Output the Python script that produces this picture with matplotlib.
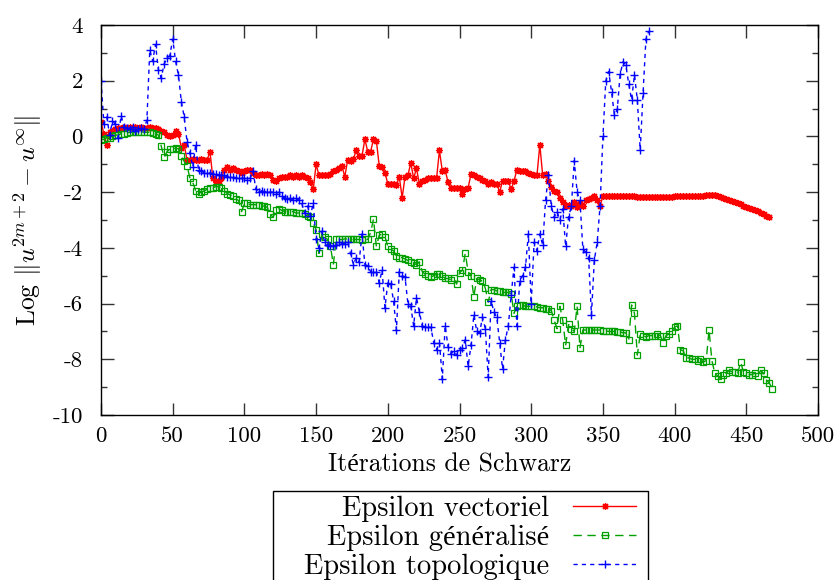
import numpy as np
import matplotlib
matplotlib.use('Agg')
import matplotlib.pyplot as plt
from matplotlib.patches import Rectangle
from matplotlib.ticker import MultipleLocator

# log of the residual norm, one value every second Schwarz iteration
step = 2

eps_vect = [
    0.5, 0.1, -0.3, 0.15, 0.2, 0.25, 0.3, 0.3, 0.35, 0.3,
    0.35, 0.3, 0.35, 0.3, 0.35, 0.3, 0.3, 0.35, 0.3, 0.3,
    0.25, 0.2, 0.15, 0.05, 0.0, 0.05, 0.2, 0.1, -0.4, -0.3,
    -0.85, -0.85, -0.8, -0.85, -0.85, -0.8, -0.85, -0.85, -0.55, -1.5,
    -1.65, -1.6, -1.5, -1.2, -1.1, -1.2, -1.15, -1.2, -1.25, -1.3,
    -1.25, -1.2, -1.2, -1.3, -1.4, -1.4, -1.35, -1.4, -1.35, -1.4,
    -1.55, -1.6, -1.5, -1.45, -1.45, -1.45, -1.4, -1.45, -1.4, -1.45,
    -1.4, -1.45, -1.5, -1.65, -1.9, -1.0, -1.4, -1.4, -1.4, -1.4,
    -1.35, -1.25, -1.2, -1.15, -1.05, -1.45, -0.85, -0.9, -0.8, -0.5,
    -0.7, -0.7, -0.1, -0.55, -0.55, -0.1, -0.15, -1.05, -1.1, -1.3,
    -1.7, -1.7, -1.7, -1.75, -1.45, -2.2, -1.45, -1.4, -0.95, -1.5,
    -1.15, -1.7, -1.6, -1.55, -1.5, -1.5, -1.5, -1.5, -0.5, -1.25,
    -1.2, -1.65, -1.85, -1.85, -1.85, -1.85, -2.05, -1.9, -1.85, -1.35,
    -1.4, -1.45, -1.5, -1.55, -1.6, -1.7, -1.65, -1.7, -1.7, -2.0,
    -1.6, -1.6, -1.6, -1.9, -1.6, -1.2, -1.25, -1.25, -1.25, -1.3,
    -1.35, -1.4, -1.4, -0.3, -1.4, -1.35, -1.6, -1.8, -1.95, -2.0,
    -2.2, -2.35, -2.5, -2.45, -2.5, -2.35, -2.55, -2.4, -2.5, -2.3,
    -2.25, -2.2, -2.15, -2.3, -2.5, -2.15, -2.15, -2.15, -2.15, -2.15,
    -2.15, -2.15, -2.15, -2.15, -2.15, -2.15, -2.15, -2.16, -2.16, -2.16,
    -2.17, -2.17, -2.17, -2.17, -2.17, -2.17, -2.17, -2.16, -2.16, -2.16,
    -2.15, -2.15, -2.15, -2.15, -2.15, -2.15, -2.14, -2.14, -2.14, -2.14,
    -2.13, -2.11, -2.1, -2.1, -2.12, -2.15, -2.18, -2.21, -2.25, -2.28,
    -2.32, -2.36, -2.4, -2.44, -2.48, -2.52, -2.56, -2.6, -2.64, -2.69,
    -2.74, -2.79, -2.84, -2.88,
]

eps_gen = [
    -0.12, -0.1, -0.05, -0.05, 0.0, 0.05, 0.05, 0.1, 0.1, 0.12,
    0.15, 0.15, 0.15, 0.17, 0.17, 0.15, 0.15, 0.15, 0.12, 0.1,
    0.05, -0.35, -0.75, -0.55, -0.45, -0.45, -0.42, -0.45, -0.7, -0.9,
    -1.05, -1.5, -1.65, -1.95, -2.05, -2.0, -1.95, -1.9, -1.85, -1.85,
    -1.8, -1.8, -1.85, -1.95, -2.05, -2.1, -2.15, -2.25, -2.3, -2.7,
    -2.4, -2.4, -2.45, -2.45, -2.45, -2.45, -2.5, -2.5, -2.55, -2.8,
    -2.9, -2.65, -2.6, -2.65, -2.7, -2.7, -2.7, -2.7, -2.75, -2.75,
    -2.75, -2.8, -2.85, -2.9, -3.1, -3.35, -4.2, -3.5, -3.6, -3.7,
    -3.95, -4.6, -3.7, -3.7, -3.7, -3.68, -3.68, -3.7, -3.7, -3.7,
    -3.7, -3.72, -3.7, -3.7, -3.45, -2.97, -3.95, -3.55, -3.5, -3.6,
    -3.95, -4.05, -4.1, -4.3, -4.35, -4.35, -4.4, -4.45, -4.5, -4.55,
    -4.6, -4.5, -4.85, -4.95, -5.0, -5.05, -5.0, -4.95, -4.95, -5.0,
    -5.1, -5.1, -5.15, -5.1, -5.3, -4.9, -4.8, -4.2, -4.85, -5.0,
    -5.75, -5.1, -5.15, -5.2, -5.45, -5.95, -5.5, -5.5, -5.55, -5.55,
    -5.6, -5.6, -5.6, -5.65, -6.35, -6.1, -6.05, -6.05, -6.1, -6.1,
    -6.1, -6.1, -6.12, -6.15, -6.15, -6.2, -6.2, -6.25, -6.6, -6.9,
    -6.1, -6.6, -7.5, -6.75, -6.9, -7.0, -6.1, -7.6, -6.95, -6.95,
    -6.95, -6.95, -6.95, -6.95, -6.95, -6.98, -6.98, -7.0, -7.0, -7.0,
    -7.02, -7.02, -7.05, -7.05, -7.3, -6.05, -6.35, -7.85, -7.1, -7.15,
    -7.2, -7.15, -7.15, -7.15, -7.1, -7.15, -7.4, -7.15, -7.1, -7.0,
    -6.85, -6.8, -7.65, -7.7, -7.95, -7.95, -8.0, -8.0, -8.05, -8.0,
    -8.1, -8.05, -6.95, -8.05, -8.5, -8.6, -8.7, -8.55, -8.5, -8.4,
    -8.45, -8.45, -8.5, -8.1, -8.45, -8.5, -8.55, -8.55, -8.5, -8.6,
    -8.4, -8.5, -8.75, -8.85, -9.05,
]

eps_topo = [
    2.0, 0.45, 0.7, 0.05, 0.55, 0.45, -0.05, 0.75, 0.35, 0.3,
    0.25, 0.35, 0.2, 0.25, 0.3, 0.25, 0.6, 3.1, 2.7, 3.3,
    2.4, 2.1, 2.6, 2.8, 2.9, 3.5, 2.7, 2.2, 1.25, 0.7,
    -0.2, -0.6, -1.1, -0.3, -1.2, -1.25, -1.3, -1.3, -1.3, -1.35,
    -1.35, -1.4, -1.4, -1.4, -1.45, -1.45, -1.45, -1.5, -1.5, -1.5,
    -1.5, -1.55, -1.5, -1.25, -1.9, -2.0, -1.95, -2.0, -2.0, -2.0,
    -2.0, -2.05, -2.0, -2.15, -2.2, -2.25, -2.2, -2.3, -2.2, -2.3,
    -2.4, -2.75, -2.5, -2.85, -2.4, -3.7, -4.0, -3.4, -3.8, -3.9,
    -3.95, -3.95, -3.9, -3.8, -3.85, -3.85, -3.8, -4.2, -4.6, -4.35,
    -4.5, -3.5, -4.6, -4.65, -4.85, -4.85, -4.85, -5.25, -4.8, -6.15,
    -5.25, -5.3, -5.9, -6.95, -4.85, -5.0, -5.05, -6.0, -6.1, -6.8,
    -5.8, -6.3, -6.8, -6.85, -6.85, -6.85, -7.4, -7.65, -7.4, -8.7,
    -6.8, -7.55, -7.8, -7.7, -7.85, -7.65, -7.6, -7.3, -8.25, -7.5,
    -6.4, -7.0, -7.05, -6.5, -6.9, -8.65, -5.9, -6.3, -6.5, -7.4,
    -8.35, -7.3, -6.8, -5.7, -4.7, -6.8, -5.2, -5.0, -4.7, -3.5,
    -6.0, -3.8, -4.1, -3.5, -3.9, -2.3, -1.4, -2.5, -2.9, -2.7,
    -3.0, -2.6, -3.95, -2.9, -2.5, -0.87, -2.0, -2.3, -4.05, -4.15,
    -4.35, -6.4, -4.45, -3.8, -2.5, 0.0, 1.99, 2.33, 1.61, 0.77,
    0.97, 2.23, 2.68, 2.56, 1.88, 1.31, 2.21, 1.31, -0.49, 1.57,
    3.5, 3.78,
]

it_vect = np.arange(len(eps_vect)) * step
it_gen = np.arange(len(eps_gen)) * step
it_topo = np.arange(len(eps_topo)) * step

plt.rcParams['font.family'] = ['cmr10', 'Liberation Serif']
plt.rcParams['mathtext.fontset'] = 'cm'
plt.rcParams['axes.unicode_minus'] = False
plt.rcParams['font.size'] = 16.5

fig = plt.figure(figsize=(8.39, 5.80), dpi=100)
ax = fig.add_axes([0.1204, 0.2845, 0.8546, 0.6724])

ax.plot(it_vect, eps_vect, color='red', lw=1, marker=(8, 2, 0), ms=5, mew=0.9,
        label="Epsilon vectoriel")
ax.plot(it_gen, eps_gen, color='#00a000', lw=1, ls=(0, (6, 4)), marker='s', ms=4.5,
        mfc='none', mew=0.9, label="Epsilon généralisé")
ax.plot(it_topo, eps_topo, color='blue', lw=1, ls=(0, (3, 3)), marker='+', ms=6,
        mew=1.0, label="Epsilon topologique")

ax.set_xlim(0, 500)
ax.set_ylim(-10, 4)
ax.xaxis.set_major_locator(MultipleLocator(50))
ax.yaxis.set_major_locator(MultipleLocator(2))
ax.yaxis.set_minor_locator(MultipleLocator(1))
ax.tick_params(which='both', direction='in', top=True, right=True, width=1, color='#333333')
ax.tick_params(which='major', length=9)
ax.tick_params(which='minor', length=4.5)
ax.tick_params(axis='x', pad=8)
ax.tick_params(axis='y', pad=13)
for s in ax.spines.values():
    s.set_linewidth(1)

ax.set_xlabel("Itérations de Schwarz", fontsize=18.5)
ax.xaxis.set_label_coords(0.486, -0.098)
ax.set_ylabel(r"Log $\Vert u^{2m+2}-u^{\infty}\Vert$", fontsize=18.5, labelpad=6)

# key below the plot, text right-aligned against the line samples
leg = fig.legend(loc='upper right', bbox_to_anchor=(0.758, 0.146), bbox_transform=fig.transFigure,
                 markerfirst=False, numpoints=1, handlelength=2.2, handletextpad=0.85,
                 labelspacing=0.1, borderpad=0, borderaxespad=0, frameon=False,
                 prop={'size': 20.5})
fig.add_artist(Rectangle((0.3254, -0.05), 0.4469, 0.2034, transform=fig.transFigure,
                         fill=False, edgecolor='black', linewidth=1))

fig.savefig("out.png", dpi=100)
